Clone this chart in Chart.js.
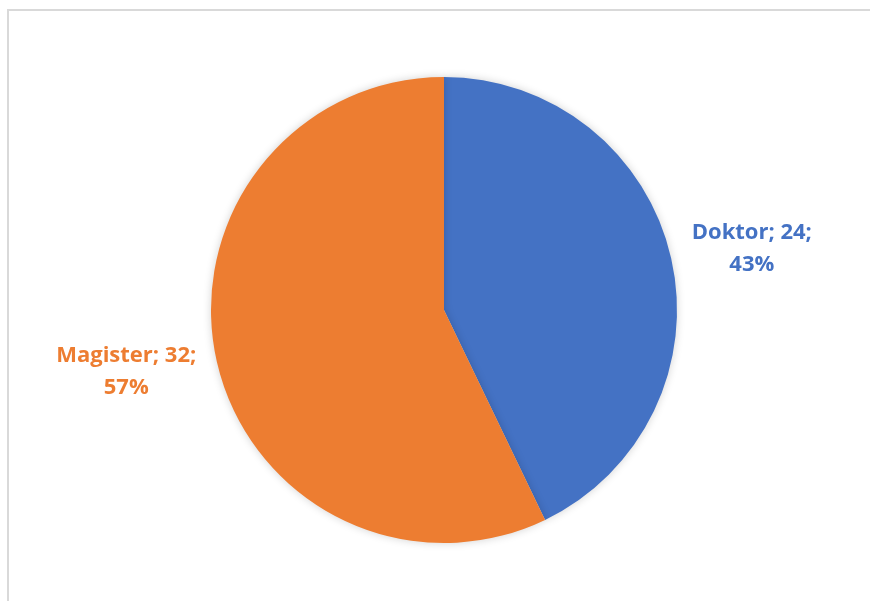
<!DOCTYPE html>
<html>
<head>
<meta charset="utf-8">
<script src="https://cdn.jsdelivr.net/npm/chart.js@4"></script>
<style>
  html, body { margin: 0; padding: 0; background: #fff; }
  #wrap { position: relative; width: 870px; height: 601px; overflow: hidden; }
  #frame {
    position: absolute; left: 7px; top: 9px; width: 900px; height: 700px;
    border-top: 2px solid #d9d9d9; border-left: 2px solid #d9d9d9;
  }
  canvas { position: absolute; left: 0; top: 0; }
</style>
</head>
<body>
<div id="wrap">
  <div id="frame"></div>
  <canvas id="pie" width="870" height="601"></canvas>
</div>
<script>
const categories = ['Doktor', 'Magister'];
const counts = [24, 32];
const percents = ['43%', '57%'];
const colors = ['#4472C4', '#ED7D31'];

// Excel-style data labels: "Name; value;" over "pct%", just outside the slice
const outsideLabels = {
  id: 'outsideLabels',
  afterDatasetsDraw(chart) {
    const ctx = chart.ctx;
    const meta = chart.getDatasetMeta(0);
    ctx.save();
    ctx.font = 'bold 22px "Open Sans", sans-serif';
    ctx.textBaseline = 'middle';
    meta.data.forEach((arc, i) => {
      const mid = (arc.startAngle + arc.endAngle) / 2;
      const r = arc.outerRadius + 16;
      const ax = arc.x + Math.cos(mid) * r;
      const ay = arc.y + Math.sin(mid) * r;
      const line1 = categories[i] + '; ' + counts[i] + ';';
      const line2 = percents[i];
      const w = ctx.measureText(line1).width;
      const cx = Math.cos(mid) >= 0 ? ax + w / 2 + 5 : ax - w / 2 - 5;
      const cy = ay + (Math.cos(mid) >= 0 ? -6 : 6);
      ctx.fillStyle = colors[i];
      ctx.textAlign = 'center';
      ctx.fillText(line1, cx, cy - 16);
      ctx.fillText(line2, cx, cy + 16);
    });
    ctx.restore();
  }
};

const softShadow = {
  id: 'softShadow',
  beforeDatasetsDraw(chart) {
    const ctx = chart.ctx;
    ctx.save();
    ctx.shadowColor = 'rgba(0,0,0,0.18)';
    ctx.shadowBlur = 8;
  },
  afterDatasetsDraw(chart) {
    chart.ctx.restore();
  }
};

new Chart(document.getElementById('pie'), {
  type: 'pie',
  data: {
    labels: categories,
    datasets: [
      {
        data: counts,
        backgroundColor: colors,
        borderWidth: 0,
      },
    ],
  },
  options: {
    responsive: false,
    animation: false,
    layout: {
      padding: { top: 77, bottom: 58, left: 211, right: 193 },
    },
    plugins: {
      legend: { display: false },
      tooltip: { enabled: false },
    },
  },
  plugins: [softShadow, outsideLabels],
});
</script>
</body>
</html>
